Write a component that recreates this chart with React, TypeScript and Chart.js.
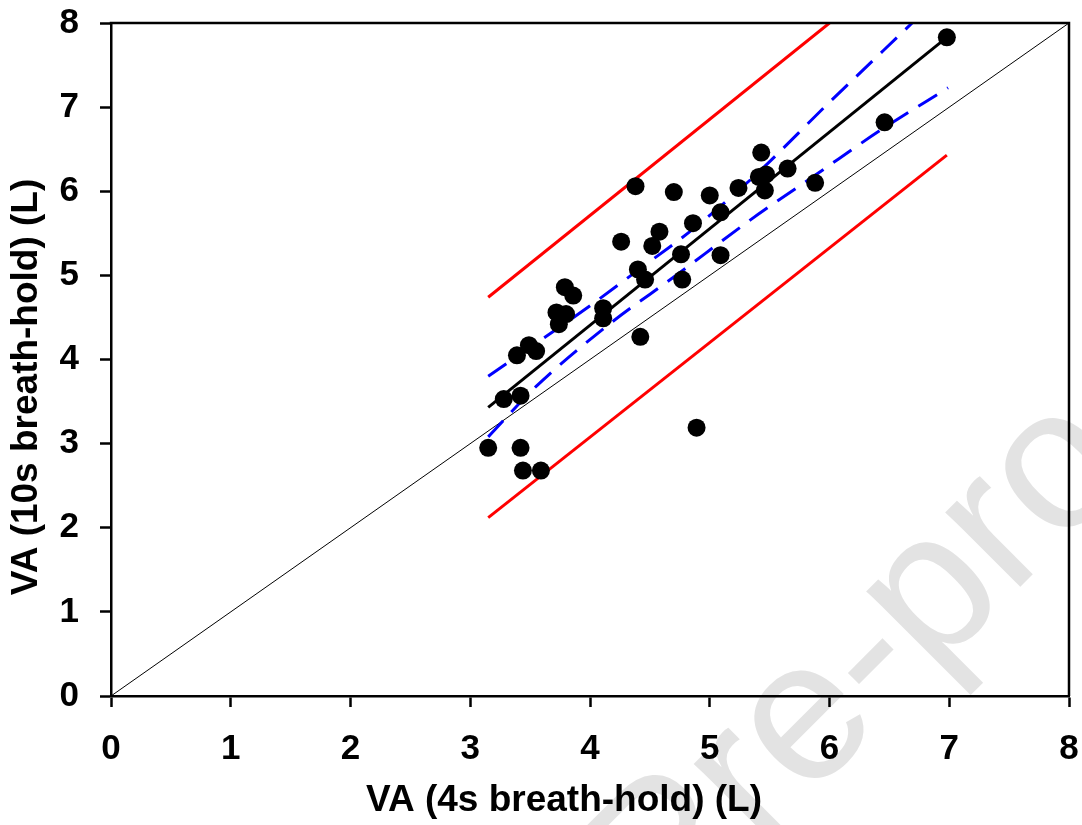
import React, { useEffect, useRef } from "react";
import { Chart, registerables } from "chart.js";

Chart.register(...registerables);

// Scatter points: VA (4s) vs VA (10s)
const POINT_X = [3.15, 3.28, 3.39, 3.42, 3.42, 3.44, 3.59, 3.49, 3.55, 3.72, 3.74, 3.80, 3.79, 3.86, 4.11, 4.11, 4.42, 4.26, 4.38, 4.40, 4.46, 4.52, 4.58, 4.70, 4.76, 4.77, 4.86, 4.89, 5.00, 5.09, 5.09, 5.24, 5.43, 5.41, 5.47, 5.46, 5.65, 5.88, 6.46, 6.98];
const POINT_Y = [2.95, 3.53, 4.05, 3.57, 2.95, 2.68, 2.68, 4.17, 4.10, 4.56, 4.42, 4.54, 4.86, 4.76, 4.61, 4.49, 4.27, 5.40, 6.06, 5.07, 4.95, 5.35, 5.52, 5.99, 5.25, 4.95, 5.62, 3.19, 5.95, 5.75, 5.24, 6.04, 6.46, 6.17, 6.20, 6.01, 6.27, 6.10, 6.82, 7.83];

// Regression line
const REG_X = [3.15, 6.98];
const REG_Y = [3.43, 7.83];

// Prediction limits (red)
const UPPER_PRED_X = [3.15, 6.0];
const UPPER_PRED_Y = [4.74, 8.0];
const LOWER_PRED_X = [3.15, 6.98];
const LOWER_PRED_Y = [2.12, 6.43];

// Confidence band (blue dashed)
const UPPER_CI_X = [3.15, 4.03, 4.39, 4.86, 5.35, 5.98, 6.69];
const UPPER_CI_Y = [3.8, 4.67, 5.05, 5.55, 6.15, 7.03, 8.0];
const LOWER_CI_X = [3.15, 3.55, 4.17, 4.7, 5.34, 5.91, 6.42, 6.99];
const LOWER_CI_Y = [3.08, 3.68, 4.43, 4.98, 5.66, 6.22, 6.72, 7.23];

// Identity line
const IDENT_X = [0, 8];
const IDENT_Y = [0, 8];

const TICKS = [0, 1, 2, 3, 4, 5, 6, 7, 8];
const X_TITLE = "VA (4s breath-hold) (L)";
const Y_TITLE = "VA (10s breath-hold) (L)";
const WATERMARK = "Journal Pre-proof";

const zip = (xs: number[], ys: number[]) => xs.map((x, i) => ({ x, y: ys[i] }));

const FONT = "'Liberation Sans', Arial, sans-serif";

export default function App() {
  const ref = useRef<HTMLCanvasElement | null>(null);

  useEffect(() => {
    document.body.style.margin = "0";
    const canvas = ref.current;
    if (!canvas) return;

    const watermark = {
      id: "watermark",
      beforeDraw(chart: any) {
        const ctx = chart.ctx;
        ctx.save();
        ctx.font = `200px ${FONT}`;
        ctx.fillStyle = "#e3e3e3";
        ctx.translate(806, 801);
        ctx.rotate(-Math.PI / 4);
        const w = ctx.measureText("Journal Pr").width;
        ctx.textBaseline = "alphabetic";
        ctx.textAlign = "left";
        ctx.fillText(WATERMARK, -w, 0);
        ctx.restore();
      },
    };

    const frameAndTitles = {
      id: "frameAndTitles",
      afterDraw(chart: any) {
        const ctx = chart.ctx;
        const a = chart.chartArea;
        ctx.save();
        ctx.strokeStyle = "#000";
        ctx.lineWidth = 2.5;
        ctx.beginPath();
        ctx.moveTo(a.left - 1.25, a.top);
        ctx.lineTo(a.right, a.top);
        ctx.lineTo(a.right, a.bottom);
        ctx.stroke();

        ctx.fillStyle = "#000";
        ctx.font = `bold 37px ${FONT}`;
        ctx.textAlign = "center";
        ctx.textBaseline = "middle";
        ctx.fillText(X_TITLE, 564, 801);
        ctx.translate(27, 387);
        ctx.rotate(-Math.PI / 2);
        ctx.fillText(Y_TITLE, 0, 0);
        ctx.restore();
      },
    };

    const axisCommon = (afterFit: (s: any) => void) => ({
      type: "linear" as const,
      min: 0,
      max: 8,
      afterFit,
      afterBuildTicks: (s: any) => {
        s.ticks = TICKS.map((v) => ({ value: v }));
      },
      ticks: {
        color: "#000",
        font: { family: FONT, weight: "bold" as const, size: 35 },
        padding: 21,
      },
      grid: {
        display: true,
        drawOnChartArea: false,
        drawTicks: true,
        tickLength: 11,
        tickWidth: 2.5,
        tickColor: "#000",
      },
      border: { display: true, color: "#000", width: 2.5 },
      title: { display: false },
    });

    const chart = new Chart(canvas, {
      type: "scatter",
      data: {
        datasets: [
          {
            label: "data",
            data: zip(POINT_X, POINT_Y),
            backgroundColor: "#000",
            borderWidth: 0,
            pointRadius: 9,
            pointHoverRadius: 9,
          },
          {
            type: "line",
            label: "regression",
            data: zip(REG_X, REG_Y),
            borderColor: "#000",
            borderWidth: 3,
            pointRadius: 0,
            fill: false,
          },
          {
            type: "line",
            label: "upper CI",
            data: zip(UPPER_CI_X, UPPER_CI_Y),
            borderColor: "#0000ff",
            borderWidth: 3,
            borderDash: [22, 12],
            pointRadius: 0,
            cubicInterpolationMode: "monotone",
            fill: false,
          },
          {
            type: "line",
            label: "lower CI",
            data: zip(LOWER_CI_X, LOWER_CI_Y),
            borderColor: "#0000ff",
            borderWidth: 3,
            borderDash: [22, 12],
            pointRadius: 0,
            cubicInterpolationMode: "monotone",
            fill: false,
          },
          {
            type: "line",
            label: "upper PI",
            data: zip(UPPER_PRED_X, UPPER_PRED_Y),
            borderColor: "#ff0000",
            borderWidth: 3,
            pointRadius: 0,
            fill: false,
          },
          {
            type: "line",
            label: "lower PI",
            data: zip(LOWER_PRED_X, LOWER_PRED_Y),
            borderColor: "#ff0000",
            borderWidth: 3,
            pointRadius: 0,
            fill: false,
          },
          {
            type: "line",
            label: "identity",
            data: zip(IDENT_X, IDENT_Y),
            borderColor: "#000",
            borderWidth: 1,
            pointRadius: 0,
            fill: false,
          },
        ],
      },
      options: {
        responsive: false,
        animation: false,
        layout: { autoPadding: false, padding: { top: 23, right: 13, left: 0, bottom: 0 } },
        plugins: {
          legend: { display: false },
          tooltip: { enabled: false },
        },
        scales: {
          x: {
            ...axisCommon((s: any) => {
              s.height = 129;
              s.paddingLeft = 0;
              s.paddingRight = 0;
            }),
            position: "bottom",
          },
          y: {
            ...axisCommon((s: any) => {
              s.width = 111;
              s.paddingTop = 0;
              s.paddingBottom = 0;
            }),
            position: "left",
          },
        },
      } as any,
      plugins: [watermark, frameAndTitles],
    });

    return () => chart.destroy();
  }, []);

  return (
    <div style={{ width: 1082, height: 825, position: "relative" }}>
      <canvas ref={ref} width={1082} height={825} style={{ display: "block" }} />
    </div>
  );
}
